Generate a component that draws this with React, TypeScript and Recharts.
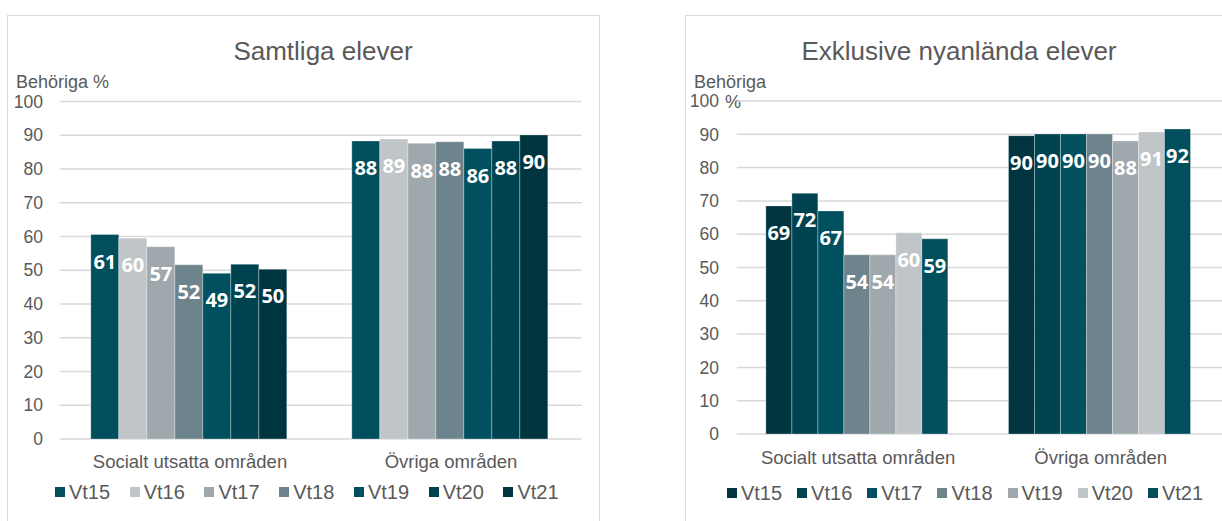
import { BarChart, Bar, XAxis, YAxis, CartesianGrid, Legend, LabelList } from 'recharts'

const categories = ['Socialt utsatta områden', 'Övriga områden']
const seriesNames = ['Vt15', 'Vt16', 'Vt17', 'Vt18', 'Vt19', 'Vt20', 'Vt21']

// Samtliga elever
const samtligaSocialt = [60.6, 59.5, 57.0, 51.6, 49.1, 51.8, 50.3]
const samtligaOvriga = [88.3, 88.9, 87.6, 88.1, 86.1, 88.3, 90.1]

// Exklusive nyanlända elever
const exklSocialt = [68.5, 72.3, 67.0, 53.8, 53.8, 60.4, 58.6]
const exklOvriga = [89.6, 90.1, 90.1, 90.1, 88.0, 90.7, 91.6]

const yTicks = [0, 10, 20, 30, 40, 50, 60, 70, 80, 90, 100]

const leftColors = ['#014f5c', '#c0c5c8', '#9fa9ad', '#6e848c', '#01505f', '#004350', '#003540']
const rightColors = ['#003540', '#004350', '#01505f', '#6e848c', '#9fa9ad', '#c0c5c8', '#014f5c']

const FONT = '"Liberation Sans", Arial, sans-serif'
const TEXT = '#595959'
const GRID = '#d9d9d9'

function buildRows(socialt: number[], ovriga: number[]) {
  const groups = [socialt, ovriga]
  return categories.map((name, i) => {
    const row: Record<string, string | number> = { name }
    seriesNames.forEach((s, j) => {
      row[s] = groups[i][j]
    })
    return row
  })
}

function LegendRow({ payload, gap, shift }: any) {
  return (
    <div
      style={{
        display: 'flex',
        justifyContent: 'center',
        alignItems: 'center',
        height: 30,
        gap,
        transform: `translateX(${shift}px)`,
      }}
    >
      {(payload || []).map((e: any) => (
        <div key={e.value} style={{ display: 'flex', alignItems: 'center' }}>
          <span style={{ width: 10, height: 10, background: e.color, marginRight: 4, display: 'inline-block' }} />
          <span style={{ fontFamily: FONT, fontSize: 20, color: TEXT, lineHeight: '20px' }}>{e.value}</span>
        </div>
      ))}
    </div>
  )
}

type PanelProps = {
  rows: Record<string, string | number>[]
  colors: string[]
  left: number
  width: number
  margin: { top: number; right: number; left: number; bottom: number }
  yWidth: number
  yMargin: number
  xHeight: number
  xMargin: number
  legendGap: number
  legendShift: number
}

function Panel(p: PanelProps) {
  return (
    <div style={{ position: 'absolute', left: p.left, top: 0 }}>
      <BarChart width={p.width} height={521} data={p.rows} margin={p.margin} barCategoryGap="12%" barGap={0}>
        <CartesianGrid vertical={false} stroke={GRID} strokeWidth={1.5} />
        <XAxis
          dataKey="name"
          axisLine={false}
          tickLine={false}
          height={p.xHeight}
          tickMargin={p.xMargin}
          tick={{ fontFamily: FONT, fontSize: 18.5, fill: TEXT }}
        />
        <YAxis
          domain={[0, 100]}
          ticks={yTicks}
          interval={0}
          width={p.yWidth}
          axisLine={false}
          tickLine={false}
          tickMargin={p.yMargin}
          tick={{ fontFamily: FONT, fontSize: 17.5, fill: TEXT }}
        />
        <Legend
          verticalAlign="bottom"
          content={(props: any) => <LegendRow {...props} gap={p.legendGap} shift={p.legendShift} />}
        />
        {seriesNames.map((s, i) => (
          <Bar
            key={s}
            dataKey={s}
            fill={p.colors[i]}
            stroke="#ffffff"
            strokeOpacity={0.3}
            strokeWidth={1}
            isAnimationActive={false}
          >
            <LabelList
              dataKey={s}
              position="insideTop"
              offset={20}
              formatter={(v: any) => Math.round(Number(v))}
              style={{ fontFamily: '"Open Sans", sans-serif', fontWeight: 700, fontSize: 20, fill: '#ffffff' }}
            />
          </Bar>
        ))}
      </BarChart>
    </div>
  )
}

export default function App() {
  const leftRows = buildRows(samtligaSocialt, samtligaOvriga)
  const rightRows = buildRows(exklSocialt, exklOvriga)

  const txt = (extra: React.CSSProperties) => ({
    position: 'absolute' as const,
    fontFamily: FONT,
    color: TEXT,
    whiteSpace: 'nowrap' as const,
    ...extra,
  })

  return (
    <div style={{ position: 'absolute', left: 0, top: 0, width: 1222, height: 521, overflow: 'hidden', background: '#ffffff' }}>
      <div style={{ position: 'absolute', left: 7, top: 15, width: 593, height: 540, border: `1.5px solid ${GRID}`, boxSizing: 'border-box' }} />
      <div style={{ position: 'absolute', left: 685, top: 15, width: 600, height: 540, border: `1.5px solid ${GRID}`, boxSizing: 'border-box' }} />

      <div style={txt({ left: 123, width: 400, top: 38, textAlign: 'center', fontSize: 26, lineHeight: '26px' })}>Samtliga elever</div>
      <div style={txt({ left: 759, width: 400, top: 38, textAlign: 'center', fontSize: 26, lineHeight: '26px' })}>Exklusive nyanlända elever</div>

      <div style={txt({ left: 16, top: 73, fontSize: 18, lineHeight: '18px' })}>Behöriga %</div>
      <div style={txt({ left: 694, top: 73, fontSize: 18, lineHeight: '18px' })}>Behöriga</div>
      <div style={txt({ left: 725, top: 93, fontSize: 18, lineHeight: '18px' })}>%</div>

      <Panel
        rows={leftRows}
        colors={leftColors}
        left={0}
        width={600}
        margin={{ top: 101.5, right: 18.5, left: 0, bottom: 14 }}
        yWidth={59.5}
        yMargin={10.5}
        xHeight={38}
        xMargin={10}
        legendGap={19.6}
        legendShift={16}
      />
      <Panel
        rows={rightRows}
        colors={rightColors}
        left={686}
        width={536}
        margin={{ top: 101, right: 0, left: 0, bottom: 13 }}
        yWidth={50.75}
        yMargin={11.75}
        xHeight={44}
        xMargin={11}
        legendGap={15}
        legendShift={11}
      />
    </div>
  )
}
